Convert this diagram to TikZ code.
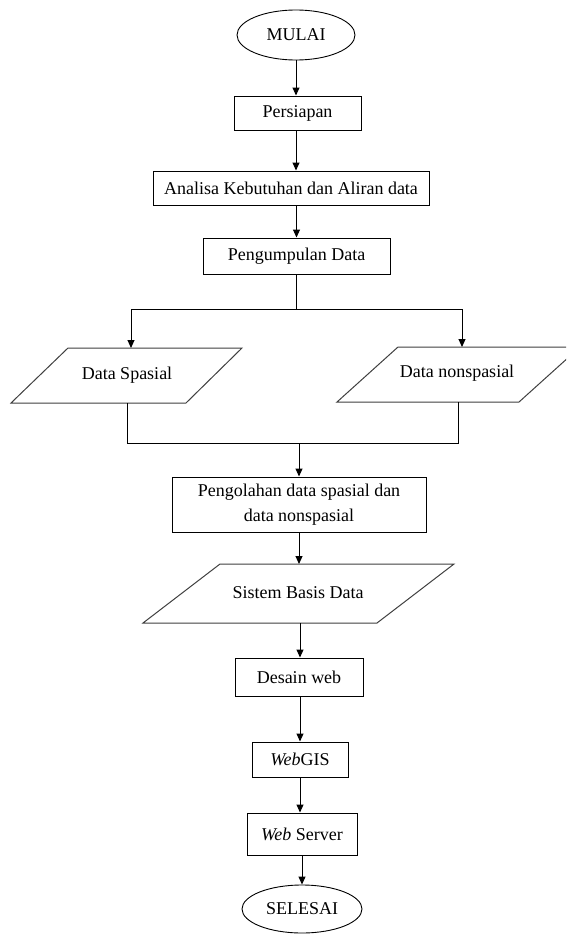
\documentclass[tikz,border=0pt]{standalone}
\usepackage{fontspec}
\setmainfont{Liberation Serif}
\usetikzlibrary{arrows.meta,shapes.geometric}
\begin{document}
\begin{tikzpicture}[x=1pt,y=-1pt,
  every node/.style={font=\fontsize{18}{25}\selectfont},
  box/.style={draw,line width=1pt,inner sep=0pt,align=center},
  terminal/.style={draw,ellipse,line width=0.9pt,inner sep=0pt,minimum width=118pt,minimum height=50pt},
  para/.style={draw,line width=1pt,draw=black!75},
  flow/.style={-{Triangle[length=8pt,width=7pt]},line width=1pt},
  link/.style={line width=1pt}]
\useasboundingbox (0,0) rectangle (566,934);
\clip (0,0) rectangle (566,934);
\fill[white] (0,0) rectangle (566,934);

% terminals and process boxes
\node[terminal] (mulai) at (296,35) {MULAI};
\node[box,minimum width=127pt,minimum height=34pt] (persiapan) at (297.5,113) {Persiapan};
\node[box,minimum width=276pt,minimum height=34pt] (analisa) at (291,188) {Analisa Kebutuhan dan Aliran data};
\node[box,minimum width=187pt,minimum height=36pt] (pengumpulan) at (296.5,256) {Pengumpulan Data};

% input/output parallelograms
\draw[para] (68,348) -- (242,348) -- (186,403) -- (11,403) -- cycle;
\node (dataspasial) at (127,375) {Data Spasial};
\draw[para] (398,347) -- (580,347) -- (519,402) -- (337,402) -- cycle;
\node (datanon) at (457,373) {Data nonspasial};

\node[box,minimum width=254pt,minimum height=55pt] (pengolahan) at (299,504.5) {Pengolahan data spasial dan\\data nonspasial};

\draw[para] (220,564) -- (454,564) -- (377,623) -- (143,623) -- cycle;
\node (sistem) at (298,593) {Sistem Basis Data};

\node[box,minimum width=128pt,minimum height=38pt] (desain) at (299,677) {Desain web};
\node[box,minimum width=96pt,minimum height=35pt] (webgis) at (300,759.5) {\textit{Web}GIS};
\node[box,minimum width=110pt,minimum height=42pt] (webserver) at (302,834) {\textit{Web} Server};
\node[terminal,minimum width=120pt,minimum height=48pt] (selesai) at (302,909) {SELESAI};

% connector points
\coordinate (split) at (296,309);
\coordinate (dsTop) at (131,348);
\coordinate (dnTop) at (462,347);
\coordinate (dsBot) at (127,403);
\coordinate (dnBot) at (458,402);
\coordinate (merge) at (299,443);
\coordinate (sisTop) at (299,564);
\coordinate (sisBot) at (300,623);

% connectors
\draw[flow] (mulai.south) -- (mulai.south |- persiapan.north);
\draw[flow] (persiapan.south -| mulai.south) -- (analisa.north -| mulai.south);
\draw[flow] (analisa.south -| pengumpulan.south) -- (pengumpulan.north);
\draw[link] (pengumpulan.south -| split) -- (split);
\draw[flow] (split) -| (dsTop);
\draw[flow] (split) -| (dnTop);
\draw[link] (dsBot) |- (merge);
\draw[link] (dnBot) |- (merge);
\draw[flow] (merge) -- (pengolahan.north);
\draw[flow] (pengolahan.south) -- (sisTop);
\draw[flow] (sisBot) -- (desain.north -| sisBot);
\draw[flow] (desain.south -| webgis.north) -- (webgis.north);
\draw[flow] (webgis.south) -- (webgis.south |- webserver.north);
\draw[flow] (webserver.south) -- (selesai.north);
\end{tikzpicture}
\end{document}
